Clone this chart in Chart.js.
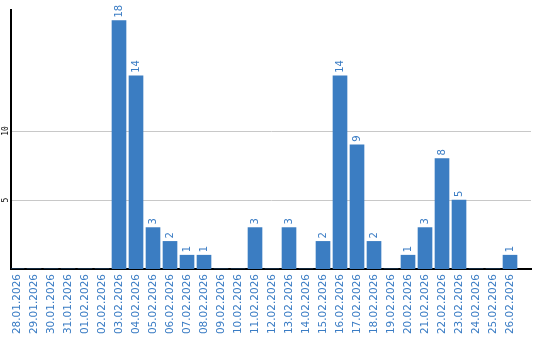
<!DOCTYPE html>
<html>
<head>
<meta charset="utf-8">
<script src="https://cdn.jsdelivr.net/npm/chart.js@4/dist/chart.umd.min.js"></script>
<style>
html,body{margin:0;padding:0;background:#fff;}
#wrap{width:540px;height:340px;position:relative;}
</style>
</head>
<body>
<div id="wrap"><canvas id="c" width="540" height="340"></canvas></div>
<script>
const dates = ["28.01.2026","29.01.2026","30.01.2026","31.01.2026","01.02.2026","02.02.2026","03.02.2026","04.02.2026","05.02.2026","06.02.2026","07.02.2026","08.02.2026","09.02.2026","10.02.2026","11.02.2026","12.02.2026","13.02.2026","14.02.2026","15.02.2026","16.02.2026","17.02.2026","18.02.2026","19.02.2026","20.02.2026","21.02.2026","22.02.2026","23.02.2026","24.02.2026","25.02.2026","26.02.2026"];
const counts = [0,0,0,0,0,0,18,14,3,2,1,1,0,0,3,0,3,0,2,14,9,2,0,1,3,8,5,0,0,1];
const yTicks = [5,10];

const BLUE = '#3b7dc2';
const LABEL_BLUE = '#3a7cc4';

const points = counts.map((v, i) => ({x: i, y: v}));

const valueLabels = {
  id: 'valueLabels',
  afterDatasetsDraw(chart) {
    const ctx = chart.ctx;
    const meta = chart.getDatasetMeta(0);
    ctx.save();
    ctx.font = '10px "DejaVu Sans"';
    ctx.fillStyle = LABEL_BLUE;
    ctx.textAlign = 'left';
    ctx.textBaseline = 'middle';
    meta.data.forEach((bar, i) => {
      const v = counts[i];
      if (!v) return;
      ctx.save();
      ctx.translate(bar.x + 0.5, bar.y - 3);
      ctx.rotate(-Math.PI / 2);
      ctx.fillText(String(v), 0, 0);
      ctx.restore();
    });
    ctx.restore();
  }
};

new Chart(document.getElementById('c'), {
  type: 'bar',
  data: {
    datasets: [{
      data: points,
      backgroundColor: BLUE,
      borderWidth: 0,
      barThickness: 14
    }]
  },
  options: {
    responsive: false,
    animation: false,
    events: [],
    layout: { padding: { left: 0, right: 9, top: 10, bottom: 0 } },
    plugins: { legend: { display: false }, tooltip: { enabled: false } },
    scales: {
      x: {
        type: 'linear',
        offset: false,
        min: -0.353,
        max: 30.235,
        z: 1,
        grid: { display: false, drawTicks: false },
        border: { display: true, color: '#000', width: 2 },
        afterFit(s) { s.height = 71; },
        afterBuildTicks(s) { s.ticks = dates.map((d, i) => ({value: i})); },
        ticks: {
          autoSkip: false,
          includeBounds: false,
          minRotation: 90,
          maxRotation: 90,
          padding: 5,
          color: LABEL_BLUE,
          font: { family: 'DejaVu Sans', size: 10.5 },
          callback: (v) => dates[v] !== undefined ? dates[v] : ''
        }
      },
      y: {
        min: 0,
        max: 18.77,
        grid: { color: '#c8c8c8', lineWidth: 1, drawTicks: false },
        border: { display: true, color: '#000', width: 2 },
        afterFit(s) { s.width = 11; },
        afterBuildTicks(s) { s.ticks = yTicks.map(v => ({value: v})); },
        ticks: {
          minRotation: 90,
          maxRotation: 90,
          crossAlign: 'center',
          padding: 0,
          color: '#000',
          font: { family: 'DejaVu Sans Mono', size: 8 },
          callback: (v) => String(v)
        }
      }
    }
  },
  plugins: [valueLabels]
});
</script>
</body>
</html>
